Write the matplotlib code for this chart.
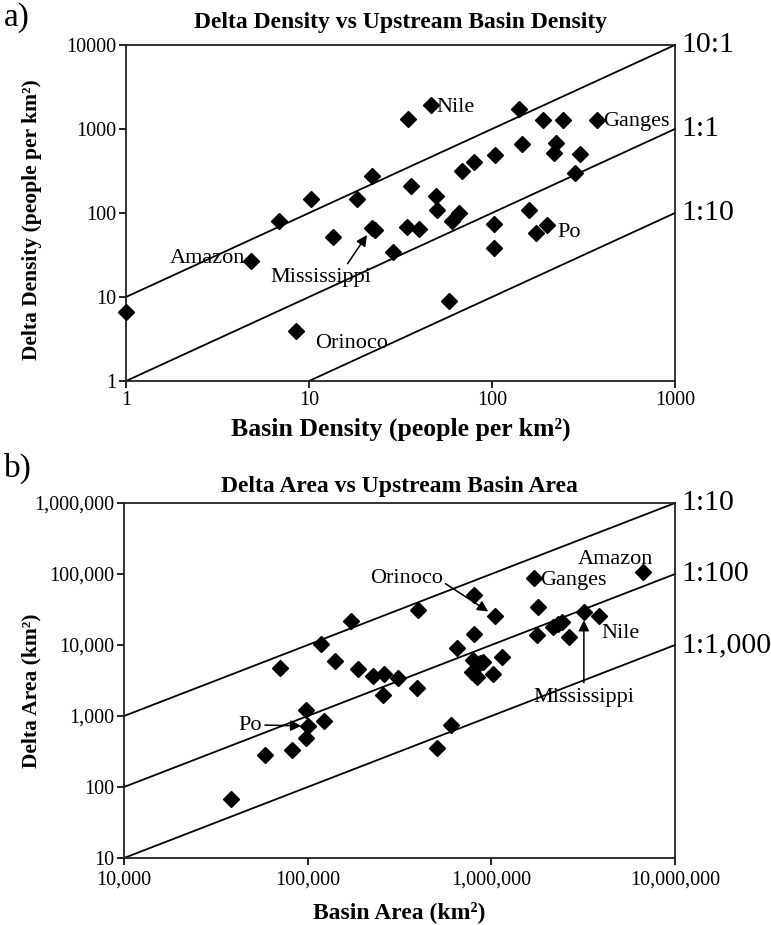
import matplotlib
matplotlib.use("Agg")
import matplotlib.pyplot as plt
import matplotlib.transforms as mtransforms
from matplotlib.ticker import FixedLocator, FuncFormatter, NullLocator

plt.rcParams["font.family"] = ["Liberation Serif", "DejaVu Serif"]

# panel a: population density (people per km2)
dens_basin = [1.0, 4.8, 6.9, 8.5, 10.3, 13.5, 18.4, 22, 22.2, 23, 28.7, 34.2, 34.9,
              36, 40, 46.2, 49.2, 50.3, 58.4, 60.2, 66, 68.8, 79.4, 102.6, 102.6,
              103.5, 141, 146.5, 160, 174, 189, 201, 219, 224, 243, 284, 303, 373]
dens_delta = [6.6, 27, 81, 3.9, 146, 52, 146, 66, 276, 63, 34, 67.5, 1315,
              211, 65, 1930, 161, 109, 9, 81, 101, 319, 408, 74, 38,
              486, 1730, 663, 109, 58, 1280, 71, 522, 676, 1280, 297, 504, 1280]
dens_labels = {"Nile": (46.2, 1930), "Ganges": (373, 1280), "Po": (201, 71),
               "Amazon": (4.8, 27), "Mississippi": (22, 66), "Orinoco": (8.5, 3.9)}

# panel b: area (km2)
area_basin = [38200, 58600, 70600, 82000, 98000, 98000, 100700, 118000, 122000, 141000,
              173000, 188000, 228000, 256000, 260000, 311000, 392000, 400000, 508000,
              603000, 647000, 782000, 798000, 807000, 807000, 832000, 867000, 903000,
              1020000, 1050000, 1150000, 1710000, 1770000, 1800000, 2170000, 2310000,
              2440000, 2660000, 3190000, 3860000, 6700000]
area_delta = [67, 282, 4790, 332, 1200, 494, 723, 10300, 859, 5960,
              21600, 4600, 3700, 1980, 3900, 3400, 2450, 31000, 351,
              747, 8970, 4200, 6150, 50600, 14300, 3570, 5500, 5800,
              3900, 25600, 6700, 87000, 13800, 34700, 18100, 19800,
              21300, 12800, 29400, 25900, 106000]
area_labels = {"Amazon": (6700000, 106000), "Ganges": (1710000, 87000),
               "Nile": (3860000, 25900), "Mississippi": (3190000, 29400),
               "Orinoco": (1050000, 25600), "Po": (100700, 723)}

dens_ratios = [10, 1, 0.1]
dens_ratio_text = ["10:1", "1:1", "1:10"]
area_ratios = [0.1, 0.01, 0.001]
area_ratio_text = ["1:10", "1:100", "1:1,000"]

fig = plt.figure(figsize=(7.71, 9.25), dpi=100)
ax1 = fig.add_axes([0.1634, 0.5881, 0.7121, 0.3633])
ax2 = fig.add_axes([0.1608, 0.0724, 0.7147, 0.3838])

ARROW = dict(arrowstyle="-|>", color="black", lw=1.1, mutation_scale=16)


def style_axes(ax, xlim, ylim, fmt):
    ax.set_xscale("log")
    ax.set_yscale("log")
    ax.set_xlim(*xlim)
    ax.set_ylim(*ylim)
    for s in ax.spines.values():
        s.set_linewidth(1.3)
        s.set_color("#222222")
    ax.tick_params(direction="out", length=5, width=1.2, labelsize=14.5, pad=2)
    ax.xaxis.set_minor_locator(NullLocator())
    ax.yaxis.set_minor_locator(NullLocator())
    ax.xaxis.set_major_formatter(FuncFormatter(fmt))
    ax.yaxis.set_major_formatter(FuncFormatter(fmt))


def ratio_lines(ax, ratios, texts, xlim):
    trans = mtransforms.blended_transform_factory(ax.transAxes, ax.transData)
    for r, t in zip(ratios, texts):
        xs = [max(xlim[0], ax.get_ylim()[0] / r), xlim[1]]
        ax.plot(xs, [x * r for x in xs], color="black", lw=1.3, clip_on=False)
        ax.text(1.012, xlim[1] * r, t, transform=trans, fontsize=21.5,
                ha="left", va="center")


# ---- panel a ----
style_axes(ax1, (1, 1000), (1, 10000), lambda v, p: f"{v:g}")
ax1.xaxis.set_major_locator(FixedLocator([1, 10, 100, 1000]))
ax1.yaxis.set_major_locator(FixedLocator([1, 10, 100, 1000, 10000]))
ratio_lines(ax1, dens_ratios, dens_ratio_text, (1, 1000))
ax1.plot(dens_basin, dens_delta, "D", color="black", ms=8, clip_on=False, zorder=3)

ax1.annotate("Nile", dens_labels["Nile"], xytext=(6, -3), textcoords="offset pixels",
             fontsize=16, va="center")
ax1.annotate("Ganges", dens_labels["Ganges"], xytext=(6, -2), textcoords="offset pixels",
             fontsize=16, va="center")
ax1.annotate("Po", dens_labels["Po"], xytext=(10, -7), textcoords="offset pixels",
             fontsize=16, va="center")
ax1.annotate("Amazon", dens_labels["Amazon"], xytext=(-5, 2), textcoords="offset pixels",
             fontsize=16, va="center", ha="right")
ax1.annotate("Orinoco", dens_labels["Orinoco"], xytext=(19, -12), textcoords="offset pixels",
             fontsize=16, va="center", ha="left")
ax1.annotate("Mississippi", dens_labels["Mississippi"], xytext=(-51, -49),
             textcoords="offset pixels", fontsize=16, va="center", ha="center",
             arrowprops=dict(ARROW, relpos=(0.74, 1.0), shrinkA=1, shrinkB=6))

ax1.set_title("Delta Density vs Upstream Basin Density", fontsize=17,
              fontweight="bold", pad=12)
ax1.set_xlabel("Basin Density (people per km²)", fontsize=18.5, fontweight="bold",
               labelpad=6)
ax1.set_ylabel("Delta Density (people per km²)", fontsize=15.5, fontweight="bold")
ax1.yaxis.set_label_coords(-0.153, 0.48)
fig.text(0.005, 0.981, "a)", fontsize=24, va="center")

# ---- panel b ----
style_axes(ax2, (1e4, 1e7), (10, 1e6), lambda v, p: f"{v:,.0f}")
ax2.tick_params(axis="x", pad=4)
ax2.xaxis.set_major_locator(FixedLocator([1e4, 1e5, 1e6, 1e7]))
ax2.yaxis.set_major_locator(FixedLocator([10, 100, 1e3, 1e4, 1e5, 1e6]))
ratio_lines(ax2, area_ratios, area_ratio_text, (1e4, 1e7))
ax2.plot(area_basin, area_delta, "D", color="black", ms=8, clip_on=False, zorder=3)

ax2.annotate("Amazon", area_labels["Amazon"], xytext=(-28, 13), textcoords="offset pixels",
             fontsize=16, va="center", ha="center")
ax2.annotate("Ganges", area_labels["Ganges"], xytext=(6, -2), textcoords="offset pixels",
             fontsize=16, va="center")
ax2.annotate("Nile", area_labels["Nile"], xytext=(2, -18), textcoords="offset pixels",
             fontsize=16, va="center")
ax2.annotate("Mississippi", area_labels["Mississippi"], xytext=(0, -86),
             textcoords="offset pixels", fontsize=16, va="center", ha="center",
             arrowprops=dict(ARROW, relpos=(0.5, 1.0), shrinkA=2, shrinkB=6))
ax2.annotate("Orinoco", area_labels["Orinoco"], xytext=(-89, 38),
             textcoords="offset pixels", fontsize=16, va="center", ha="center",
             arrowprops=dict(ARROW, relpos=(1.0, 0.3), shrinkA=0, shrinkB=6))
ax2.annotate("Po", area_labels["Po"], xytext=(-46, 1),
             textcoords="offset pixels", fontsize=16, va="center", ha="right",
             arrowprops=dict(ARROW, relpos=(1.0, 0.5), shrinkA=0, shrinkB=5))

ax2.set_title("Delta Area vs Upstream Basin Area", fontsize=17,
              fontweight="bold", pad=8)
ax2.set_xlabel("Basin Area (km²)", fontsize=17, fontweight="bold", labelpad=8)
ax2.set_ylabel("Delta Area (km²)", fontsize=15.5, fontweight="bold")
ax2.yaxis.set_label_coords(-0.149, 0.47)
fig.text(0.005, 0.494, "b)", fontsize=24, va="center")

fig.savefig("out.png", dpi=100)
